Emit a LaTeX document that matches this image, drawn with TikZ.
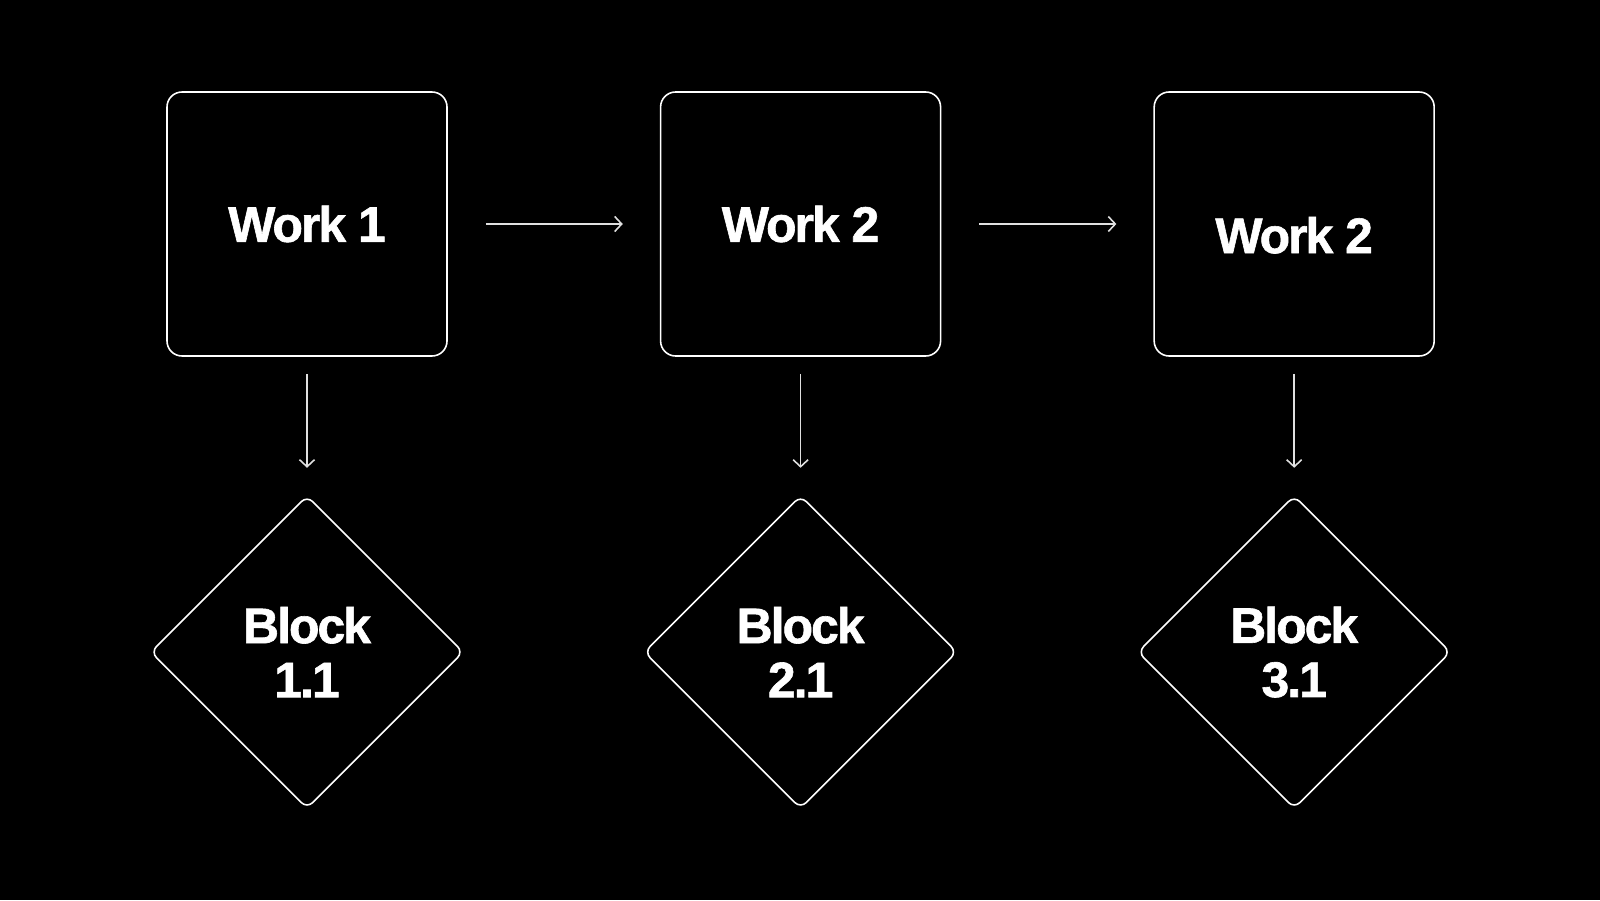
\documentclass[tikz,border=0pt]{standalone}
\usepackage{fontspec}
\setmainfont[BoldFeatures={FakeBold=1.2}]{Liberation Sans}
\usetikzlibrary{shapes.geometric,arrows.meta,positioning}

\begin{document}
\begin{tikzpicture}[
		work/.style={draw=white,line width=0.45pt,rounded corners=0.15cm,minimum width=2.8cm,minimum height=2.64cm,inner sep=0pt},
		block/.style={draw=white,line width=0.45pt,diamond,rounded corners=0.08cm,minimum size=3.13cm,inner sep=0pt,align=center},
		link/.style={draw=white!88!black,line width=0.45pt,-{Straight Barb[length=0.07cm,width=0.15cm]}},
		every node/.style={text=white,font=\fontsize{14.2}{15.4}\selectfont\bfseries\addfontfeatures{LetterSpace=-4}}
	]
		% background
		\fill[black] (0,0) rectangle (16,9);
		\useasboundingbox (0,0) rectangle (16,9);
		% work boxes
		\node[work] (w1) at (3.07,6.76) {Work 1};
		\node[work,right=2.12cm of w1] (w2) {Work 2};
		\node[work,right=2.12cm of w2] (w3) {\raisebox{-0.11cm}[\height][0pt]{Work 2}};
		% blocks
		\node[block,below=1.38cm of w1] (b1) {Block\\1.1};
		\node[block,below=1.38cm of w2] (b2) {Block\\2.1};
		\node[block,below=1.38cm of w3] (b3) {Block\\3.1};
		% arrows
		\draw[link,shorten <=0.38cm,shorten >=0.37cm] (w1) -- (w2);
		\draw[link,shorten <=0.38cm,shorten >=0.37cm] (w2) -- (w3);
		\foreach \i in {1,2,3}
			\draw[link,shorten <=0.17cm,shorten >=0.27cm] (w\i) -- (b\i);
\end{tikzpicture}
\end{document}
